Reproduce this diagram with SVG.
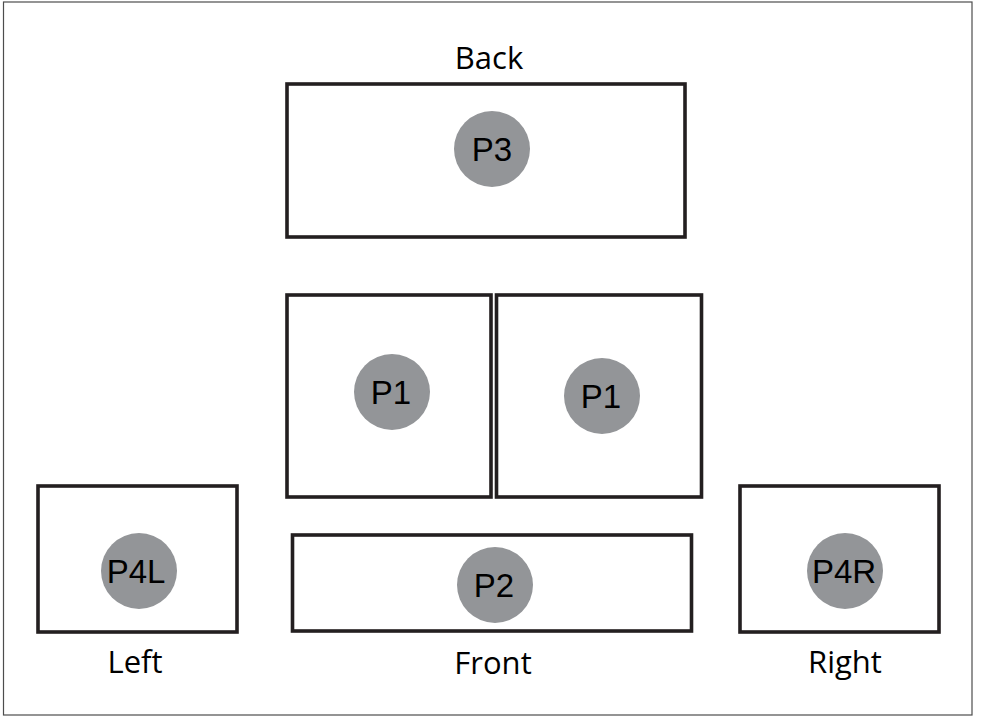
<svg xmlns="http://www.w3.org/2000/svg" width="981" height="718" viewBox="0 0 981 718">
<style>
.box{fill:#fff;stroke:#231f20;stroke-width:3.6}
.dot{fill:#939598}
.pl{font-family:"Liberation Sans",Arial,sans-serif;font-size:33px;fill:#000;text-anchor:middle}
.lbl{font-family:"Open Sans","Noto Sans",sans-serif;font-size:31px;fill:#000;text-anchor:middle}
</style>
<rect x="0" y="0" width="981" height="718" fill="#fff"/>
<rect x="3.5" y="2" width="968.5" height="713" fill="none" stroke="#4d4d4d" stroke-width="1.2"/>
<g id="back">
<rect class="box" x="287" y="84" width="398" height="153"/>
<circle class="dot" cx="492" cy="149" r="38"/>
<text class="pl" x="492" y="161">P3</text>
<text class="lbl" x="489" y="69">Back</text>
</g>
<g id="p1-left">
<rect class="box" x="287" y="295" width="204" height="202"/>
<circle class="dot" cx="392" cy="392" r="38"/>
<text class="pl" x="391" y="404">P1</text>
</g>
<g id="p1-right">
<rect class="box" x="496.5" y="295" width="205" height="202"/>
<circle class="dot" cx="602" cy="396" r="38"/>
<text class="pl" x="601" y="408">P1</text>
</g>
<g id="left">
<rect class="box" x="38" y="486" width="199" height="146"/>
<circle class="dot" cx="139" cy="571" r="38"/>
<text class="pl" x="136" y="583">P4L</text>
<text class="lbl" x="135" y="673">Left</text>
</g>
<g id="front">
<rect class="box" x="292.5" y="535" width="399" height="96"/>
<circle class="dot" cx="495" cy="585" r="38"/>
<text class="pl" x="494" y="597">P2</text>
<text class="lbl" x="493" y="674">Front</text>
</g>
<g id="right">
<rect class="box" x="740" y="486" width="199" height="146"/>
<circle class="dot" cx="845" cy="571" r="38"/>
<text class="pl" x="844" y="583">P4R</text>
<text class="lbl" x="845" y="673">Right</text>
</g>
<g id="connectors"/>
</svg>
